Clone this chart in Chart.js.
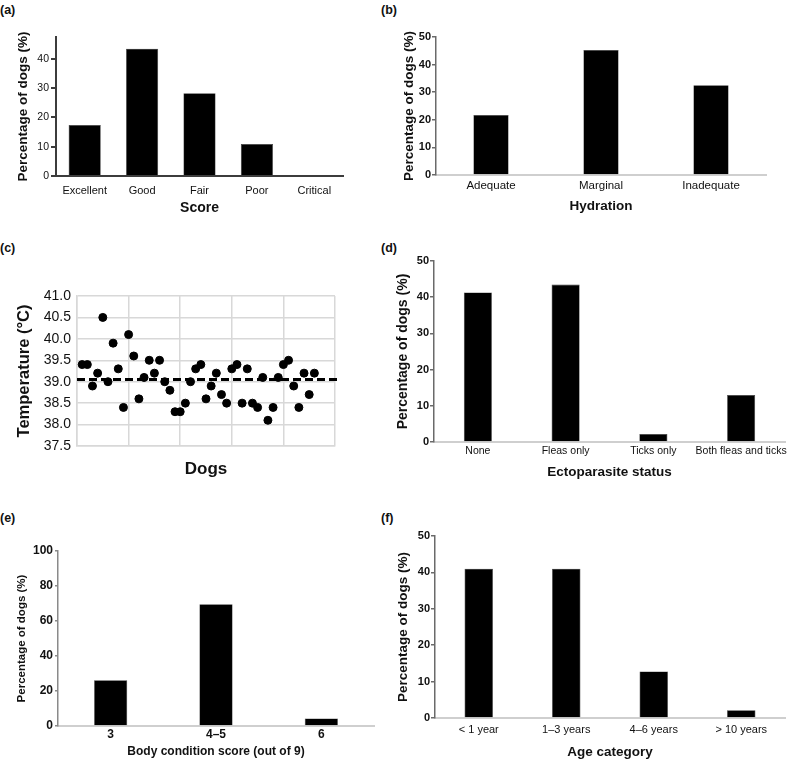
<!DOCTYPE html>
<html>
<head>
<meta charset="utf-8">
<script src="https://cdn.jsdelivr.net/npm/chart.js@4.4.1/dist/chart.umd.min.js"></script>
<style>
  html, body { margin: 0; padding: 0; background: #fff; }
  #page { position: relative; width: 795px; height: 760px; overflow: hidden; background: #fff;
          font-family: "Liberation Sans", Arial, sans-serif; color: #111; }
  .box { position: absolute; }
  .lbl { position: absolute; font-size: 12.5px; font-weight: bold; line-height: 14px; }
</style>
</head>
<body>
<div id="page">
  <div class="lbl" style="left:0px;top:3px;">(a)</div>
  <div class="lbl" style="left:381px;top:3px;">(b)</div>
  <div class="lbl" style="left:0px;top:241px;">(c)</div>
  <div class="lbl" style="left:381px;top:241px;">(d)</div>
  <div class="lbl" style="left:0px;top:511px;">(e)</div>
  <div class="lbl" style="left:381px;top:511px;">(f)</div>

  <div class="box" style="left:0px;top:25px;width:395px;height:195px;"><canvas id="ca" width="395" height="195"></canvas></div>
  <div class="box" style="left:395px;top:25px;width:400px;height:195px;"><canvas id="cb" width="400" height="195"></canvas></div>
  <div class="box" style="left:0px;top:260px;width:395px;height:230px;"><canvas id="cc" width="395" height="230"></canvas></div>
  <div class="box" style="left:395px;top:255px;width:400px;height:230px;"><canvas id="cd" width="400" height="230"></canvas></div>
  <div class="box" style="left:0px;top:505px;width:395px;height:255px;"><canvas id="ce" width="395" height="255"></canvas></div>
  <div class="box" style="left:395px;top:505px;width:400px;height:255px;"><canvas id="cf" width="400" height="255"></canvas></div>
</div>
<script>
// ---------------- DATA ----------------
// (a) Score
const scoreLabels = ['Excellent', 'Good', 'Fair', 'Poor', 'Critical'];
const scoreValues = [17.4, 43.5, 28.3, 10.9, 0];
const scoreTicks = [0, 10, 20, 30, 40];

// (b) Hydration
const hydrationLabels = ['Adequate', 'Marginal', 'Inadequate'];
const hydrationValues = [21.7, 45.3, 32.5];
const hydrationTicks = [0, 10, 20, 30, 40, 50];

// (c) Temperature of individual dogs (°C)
const dogTemperatures = [
  39.4, 39.4, 38.9, 39.2, 40.5, 39.0, 39.9, 39.3, 38.4, 40.1,
  39.6, 38.6, 39.1, 39.5, 39.2, 39.5, 39.0, 38.8, 38.3, 38.3,
  38.5, 39.0, 39.3, 39.4, 38.6, 38.9, 39.2, 38.7, 38.5, 39.3,
  39.4, 38.5, 39.3, 38.5, 38.4, 39.1, 38.1, 38.4, 39.1, 39.4,
  39.5, 38.9, 38.4, 39.2, 38.7, 39.2
];
const referenceTemperature = 39.05;
const temperatureTicks = [37.5, 38.0, 38.5, 39.0, 39.5, 40.0, 40.5, 41.0];
const dogGridTicks = [0, 10, 20, 30, 40, 50];
const referenceLineSpan = [0, 51];

// (d) Ectoparasite status
const ectoLabels = ['None', 'Fleas only', 'Ticks only', 'Both fleas and ticks'];
const ectoValues = [41.3, 43.5, 2.2, 13.0];
const ectoTicks = [0, 10, 20, 30, 40, 50];

// (e) Body condition score
const bcsLabels = ['3', '4–5', '6'];
const bcsValues = [26.1, 69.6, 4.3];
const bcsTicks = [0, 20, 40, 60, 80, 100];

// (f) Age category
const ageLabels = ['< 1 year', '1–3 years', '4–6 years', '> 10 years'];
const ageValues = [41.0, 41.0, 12.8, 2.1];
const ageTicks = [0, 10, 20, 30, 40, 50];

// ---------------- HELPERS ----------------
const FONT = '"Liberation Sans", Arial, sans-serif';
const TXT = '#111';

function fixY(w) {
  return function (s) { s.width = w; s.paddingTop = 0; s.paddingBottom = 0; s.paddingLeft = 0; s.paddingRight = 0; };
}
function fixX(h) {
  return function (s) { s.height = h; s.paddingTop = 0; s.paddingBottom = 0; s.paddingLeft = 0; s.paddingRight = 0; };
}
function setTicks(arr) {
  return function (s) { s.ticks = arr.map(function (v) { return { value: v }; }); };
}

function barPanel(id, p) {
  new Chart(document.getElementById(id), {
    type: 'bar',
    data: {
      labels: p.labels,
      datasets: [{
        data: p.values,
        backgroundColor: '#000',
        borderColor: '#3a3a3a',
        borderWidth: 0.6,
        barPercentage: p.barPct,
        categoryPercentage: 1
      }]
    },
    options: {
      responsive: false,
      animation: false,
      devicePixelRatio: 1,
      layout: { padding: { left: 0, top: p.padTop, right: p.padRight, bottom: 0 } },
      plugins: { legend: { display: false }, tooltip: { enabled: false } },
      scales: {
        x: {
          grid: { display: false, drawTicks: false },
          border: { display: true, color: p.xBorderColor, width: p.xBorderWidth },
          ticks: { color: TXT, padding: p.xTickPad, font: { family: FONT, size: p.xTickSize, weight: p.xTickWeight }, maxRotation: 0, autoSkip: false },
          title: { display: true, text: p.xTitle, color: TXT, padding: { top: 0, bottom: p.xTitlePad }, font: { family: FONT, size: p.xTitleSize, weight: 'bold' } },
          afterFit: fixX(p.xHeight)
        },
        y: {
          min: 0, max: p.yMax,
          afterBuildTicks: setTicks(p.yTicks),
          grid: { display: true, drawOnChartArea: false, drawTicks: true, tickLength: p.tickLen, color: p.yBorderColor, lineWidth: p.yBorderWidth },
          border: { display: true, color: p.yBorderColor, width: p.yBorderWidth },
          ticks: { color: TXT, padding: p.yTickPad, font: { family: FONT, size: p.yTickSize, weight: p.yTickWeight } },
          title: { display: true, text: 'Percentage of dogs (%)', color: TXT, padding: { top: p.yTitlePad, bottom: 0 }, font: { family: FONT, size: p.yTitleSize, weight: 'bold' } },
          afterFit: fixY(p.yWidth)
        }
      }
    }
  });
}

// (a)
barPanel('ca', {
  labels: scoreLabels, values: scoreValues, yTicks: scoreTicks, yMax: 47.5, barPct: 0.56,
  padTop: 12, padRight: 52, yWidth: 56, xHeight: 44,
  xBorderColor: '#3c3c3c', xBorderWidth: 2, yBorderColor: '#3c3c3c', yBorderWidth: 2,
  xTickPad: 8, xTickSize: 11, xTickWeight: 'normal',
  xTitle: 'Score', xTitleSize: 14, xTitlePad: 3,
  tickLen: 5, yTickPad: 2, yTickSize: 10.5, yTickWeight: 'normal',
  yTitlePad: 15, yTitleSize: 13.5
});

// (b)
barPanel('cb', {
  labels: hydrationLabels, values: hydrationValues, yTicks: hydrationTicks, yMax: 50, barPct: 0.32,
  padTop: 12, padRight: 29, yWidth: 41, xHeight: 45,
  xBorderColor: '#cfcfcf', xBorderWidth: 2, yBorderColor: '#6a6a6a', yBorderWidth: 1.5,
  xTickPad: 4, xTickSize: 11.5, xTickWeight: 'normal',
  xTitle: 'Hydration', xTitleSize: 13.5, xTitlePad: 6,
  tickLen: 4, yTickPad: 1, yTickSize: 11, yTickWeight: 'bold',
  yTitlePad: 6, yTitleSize: 13.5
});

// (d)
barPanel('cd', {
  labels: ectoLabels, values: ectoValues, yTicks: ectoTicks, yMax: 50, barPct: 0.32,
  padTop: 6, padRight: 10, yWidth: 39, xHeight: 43,
  xBorderColor: '#cfcfcf', xBorderWidth: 2, yBorderColor: '#6a6a6a', yBorderWidth: 1.5,
  xTickPad: 3, xTickSize: 10.5, xTickWeight: 'normal',
  xTitle: 'Ectoparasite status', xTitleSize: 13.5, xTitlePad: 5,
  tickLen: 4, yTickPad: 1, yTickSize: 11, yTickWeight: 'bold',
  yTitlePad: 0, yTitleSize: 14
});

// (e)
barPanel('ce', {
  labels: bcsLabels, values: bcsValues, yTicks: bcsTicks, yMax: 100, barPct: 0.315,
  padTop: 46, padRight: 21, yWidth: 58, xHeight: 34,
  xBorderColor: '#cfcfcf', xBorderWidth: 2, yBorderColor: '#8a8a8a', yBorderWidth: 1.5,
  xTickPad: 1, xTickSize: 12, xTickWeight: 'bold',
  xTitle: 'Body condition score (out of 9)', xTitleSize: 12, xTitlePad: 1,
  tickLen: 3, yTickPad: 2, yTickSize: 12, yTickWeight: 'bold',
  yTitlePad: 15, yTitleSize: 11.5
});

// (f)
barPanel('cf', {
  labels: ageLabels, values: ageValues, yTicks: ageTicks, yMax: 50, barPct: 0.325,
  padTop: 31, padRight: 10, yWidth: 40, xHeight: 42,
  xBorderColor: '#cfcfcf', xBorderWidth: 2, yBorderColor: '#6a6a6a', yBorderWidth: 1.5,
  xTickPad: 5, xTickSize: 11, xTickWeight: 'normal',
  xTitle: 'Age category', xTitleSize: 13.5, xTitlePad: 0,
  tickLen: 4, yTickPad: 1, yTickSize: 11, yTickWeight: 'bold',
  yTitlePad: 0, yTitleSize: 13.5
});

// (c) scatter of temperatures with dashed reference line
new Chart(document.getElementById('cc'), {
  type: 'scatter',
  data: {
    datasets: [
      {
        type: 'scatter',
        data: dogTemperatures.map(function (t, i) { return { x: i + 1, y: t }; }),
        backgroundColor: '#000', borderColor: '#000', pointRadius: 4, pointHoverRadius: 4,
        order: 0
      },
      {
        type: 'line',
        data: referenceLineSpan.map(function (x) { return { x: x, y: referenceTemperature }; }),
        borderColor: '#000', borderWidth: 3, borderDash: [8, 4], pointRadius: 0,
        clip: false, order: 1
      }
    ]
  },
  options: {
    responsive: false,
    animation: false,
    devicePixelRatio: 1,
    layout: { padding: { left: 0, top: 36, right: 60, bottom: 0 } },
    plugins: { legend: { display: false }, tooltip: { enabled: false } },
    scales: {
      x: {
        type: 'linear', min: 0, max: 50,
        afterBuildTicks: setTicks(dogGridTicks),
        grid: { display: true, drawTicks: false, color: '#d8d8d8', lineWidth: 1.5 },
        border: { display: true, color: '#d8d8d8', width: 1.5 },
        ticks: { display: false },
        title: { display: true, text: 'Dogs', color: TXT, padding: { top: 0, bottom: 10 }, font: { family: FONT, size: 17, weight: 'bold' } },
        afterFit: fixX(44)
      },
      y: {
        min: 37.5, max: 41,
        afterBuildTicks: setTicks(temperatureTicks),
        grid: { display: true, drawTicks: false, color: '#d8d8d8', lineWidth: 1.5 },
        border: { display: true, color: '#d8d8d8', width: 1.5 },
        ticks: { color: TXT, padding: 6, font: { family: FONT, size: 14 }, callback: function (v) { return Number(v).toFixed(1); } },
        title: { display: true, text: 'Temperature (°C)', color: TXT, padding: { top: 15, bottom: 0 }, font: { family: FONT, size: 16.5, weight: 'bold' } },
        afterFit: fixY(77)
      }
    }
  }
});
</script>
</body>
</html>
